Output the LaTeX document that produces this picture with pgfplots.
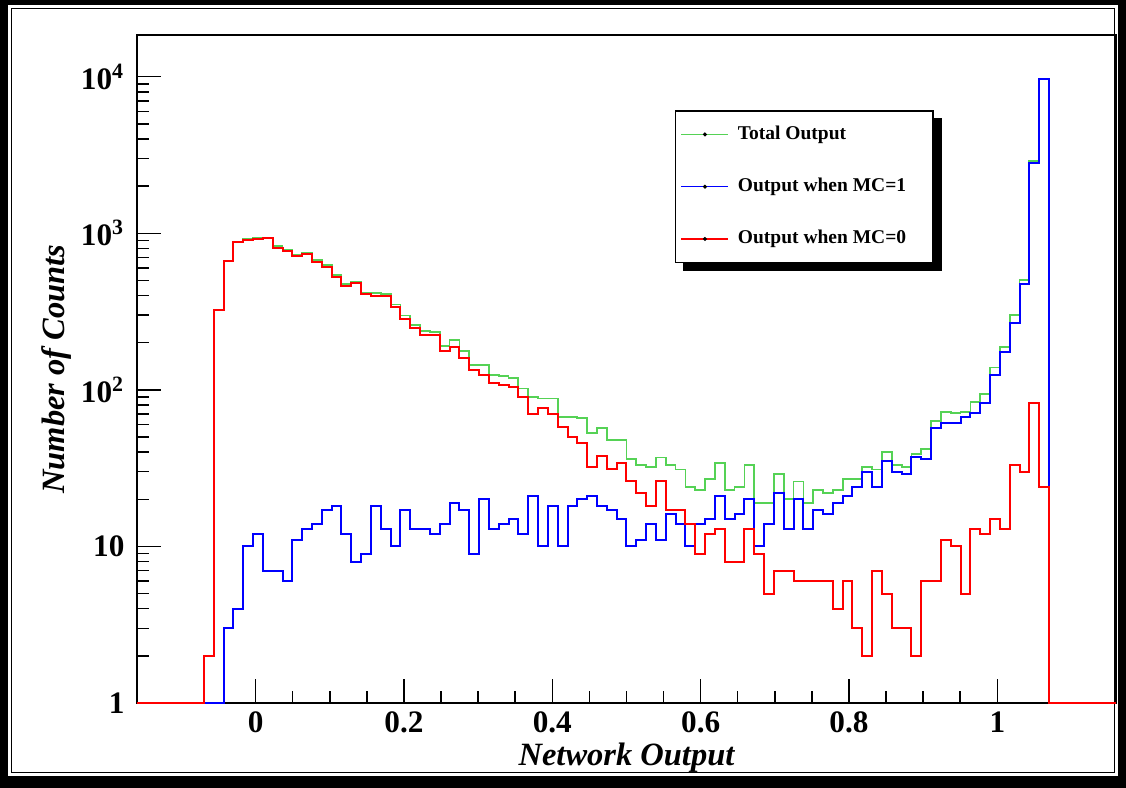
\documentclass[border=0pt]{standalone}
\usepackage{fontspec}
\setmainfont{Liberation Serif}
\usepackage{pgfplots}
\pgfplotsset{compat=1.18}
\usepackage{pgfplotstable}

\definecolor{rgreen}{RGB}{85,210,85}
\definecolor{rblue}{RGB}{0,0,255}
\definecolor{rred}{RGB}{255,0,0}

% x = left edge of bin; columns: total, MC=1, MC=0
\pgfplotstableread{
x green blue red
-0.16 1 1 1
-0.0698 2 1 2
-0.0566 323 1 323
-0.0433 664 3 661
-0.0301 879 4 875
-0.0168 915 10 905
-0.0036 932 12 920
0.0097 938 7 931
0.0230 830 7 808
0.0362 789 6 773
0.0495 729 11 715
0.0627 749 13 736
0.0760 675 14 657
0.0892 630 17 611
0.1025 543 18 525
0.1157 474 12 460
0.1290 488 8 479
0.1422 419 9 408
0.1555 417 18 397
0.1687 408 13 397
0.1820 351 10 339
0.1952 298 17 284
0.2085 260 13 249
0.2217 238 13 224
0.2350 234 12 224
0.2482 191 14 177
0.2615 207 19 187
0.2747 177 17 160
0.2880 144 9 134
0.3012 144 20 124
0.3145 125 13 111
0.3277 122 14 108
0.3410 119 15 105
0.3542 102 12 90
0.3675 90 21 70
0.3807 88 10 77
0.3940 88 18 70
0.4072 67 10 58
0.4205 67 18 50
0.4337 66 20 46
0.4470 53 21 32
0.4602 57 18 38
0.4735 48 17 31
0.4867 48 15 34
0.5000 36 10 26
0.5132 33 11 22
0.5265 32 14 18
0.5397 37 11 26
0.5530 33 16 17
0.5662 31 14 17
0.5795 24 10 14
0.5927 23 14 9
0.6060 27 15 12
0.6192 34 21 13
0.6325 23 15 8
0.6457 24 16 8
0.6590 33 20 13
0.6722 19 10 9
0.6855 19 14 5
0.6987 29 22 7
0.7120 20 13 7
0.7252 26 20 6
0.7385 19 13 6
0.7517 23 17 6
0.7650 22 16 6
0.7782 23 19 4
0.7915 27 21 6
0.8047 27 24 3
0.8180 32 30 2
0.8312 31 24 7
0.8445 40 35 5
0.8577 33 30 3
0.8710 32 29 3
0.8842 39 37 2
0.8975 42 36 6
0.9107 63 57 6
0.9240 72 61 11
0.9372 71 61 10
0.9505 72 67 5
0.9637 84 71 13
0.9770 94 82 12
0.9902 139 124 15
1.0035 187 174 13
1.0167 301 268 33
1.0300 502 472 30
1.0432 2892 2810 82
1.0565 9754 9730 24
1.0697 1 1 1
1.16 1 1 1
}\histdata

\begin{document}
\begin{tikzpicture}[x=1pt,y=1pt]
\useasboundingbox (0,0) rectangle (450.4,315.2);
\fill[black] (0,0) rectangle (450.4,315.2);
\fill[white] (3.2,4.8) rectangle (447.2,313.2);
\draw[black, line width=0.5pt] (4.6,6.2) rectangle (445.8,311.8);
\begin{axis}[
  at={(54.8pt,34pt)}, anchor=south west,
  scale only axis, width=391.6pt, height=267.2pt,
  xmin=-0.16, xmax=1.16,
  ymode=log, ymin=1, ymax=18460,
  axis line style={line width=0.6pt},
  xtick={0,0.2,0.4,0.6,0.8,1},
  xticklabels={0,0.2,0.4,0.6,0.8,1},
  minor x tick num=3,
  ytick={1,10,100,1000,10000},
  yticklabels={1,10,10\textsuperscript{2},10\textsuperscript{3},10\textsuperscript{4}},
  tick align=inside, xtick pos=bottom, ytick pos=left,
  major tick length=9.5pt, minor tick length=5pt,
  tick style={line width=0.6pt, black},
  ticklabel style={font=\bfseries\fontsize{12.5}{14}\selectfont},
  yticklabel style={xshift=-1.5pt},
  xlabel={\bfseries\itshape Network Output},
  ylabel={\bfseries\itshape Number of Counts},
  label style={font=\fontsize{13}{15}\selectfont},
  xlabel style={at={(axis description cs:0.5,-0.082)}, anchor=center},
  ylabel style={at={(axis description cs:-0.082,0.5)}, anchor=center, rotate=0},
  clip=false,
  legend cell align=left,
  legend style={name=leg, at={(0.5495,0.8877)}, anchor=north west,
    draw=black, line width=0.6pt, fill=white,
    font=\bfseries\fontsize{7.8}{9}\selectfont,
    row sep=10pt, inner xsep=2pt, inner ysep=4pt},
  legend image code/.code={\draw[#1, line width=0.6pt] (0pt,0pt) -- (18.8pt,0pt);
     \fill[black] (9.4pt,0pt) circle (0.45pt);},
]
\addlegendimage{color=rgreen}
\addlegendentry{\hspace{1.5pt}\makebox[74pt][l]{Total Output}}
\addlegendimage{color=rblue}
\addlegendentry{\hspace{1.5pt}\makebox[74pt][l]{Output when MC=1}}
\addlegendimage{color=rred}
\addlegendentry{\hspace{1.5pt}\makebox[74pt][l]{Output when MC=0}}
\addplot[forget plot, const plot mark left, color=rgreen, line width=0.7pt] table[x=x, y=green] {\histdata};
\addplot[forget plot, const plot mark left, color=rblue, line width=0.8pt] table[x=x, y=blue] {\histdata};
\addplot[forget plot, const plot mark left, color=rred, line width=0.8pt] table[x=x, y=red] {\histdata};
\end{axis}
% legend shadow (right and bottom strips)
\fill[black] ([yshift=-3.2pt]leg.north east) rectangle ([xshift=3.2pt,yshift=-3.2pt]leg.south east);
\fill[black] ([xshift=3.2pt]leg.south west) rectangle ([xshift=3.2pt,yshift=-3.2pt]leg.south east);
\end{tikzpicture}
\end{document}
